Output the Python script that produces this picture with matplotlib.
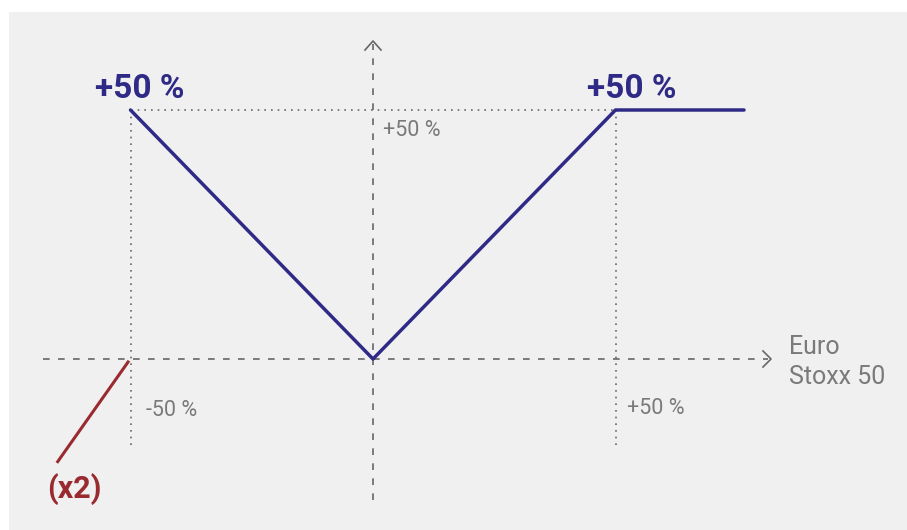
import matplotlib
matplotlib.use("Agg")
import matplotlib.pyplot as plt
from matplotlib.patches import Rectangle

plt.rcParams['font.family'] = ['Roboto', 'DejaVu Sans']

# Data (percent)
payoff_x = [-50, 0, 50, 76.5]
payoff_y = [50, 0, 50, 50]
level_label = "+50 %"
x_tick_labels = ["-50 %", "+50 %"]
x_tick_vals = [-50, 50]
y_tick_label = "+50 %"
y_tick_val = 50
leverage_label = "(x2)"
leverage_x = [-50.5, -65.0]
leverage_y = [-0.6, -20.6]
axis_title = "Euro\nStoxx 50"

NAVY = "#2f2a86"
RED = "#992a2f"
GRAY = "#666666"
TXT = "#7a7a7a"

W, H = 907, 530
fig = plt.figure(figsize=(W / 100, H / 100), dpi=100)
fig.patch.set_facecolor("white")
ax = fig.add_axes([0, 0, 1, 1])
px2x = lambda p: (p - 373) / 4.85
py2y = lambda p: (359 - p) * 50 / 249
ax.set_xlim(px2x(0), px2x(W))
ax.set_ylim(py2y(H), py2y(0))
ax.axis("off")

# gray panel
ax.add_patch(Rectangle((px2x(9), py2y(H)), px2x(W) - px2x(9), py2y(12) - py2y(H),
                       facecolor="#f0f0f0", edgecolor="none", zorder=0))

# axes (dashed)
ax.plot([px2x(43), px2x(768)], [0, 0], color=GRAY, lw=1.2, dashes=(4, 5), zorder=2)
ax.plot([0, 0], [py2y(500), py2y(44)], color=GRAY, lw=1.2, dashes=(4, 5), zorder=2)
# arrow heads
ax.plot([px2x(763), px2x(771), px2x(763)], [py2y(351), py2y(359), py2y(367)], color=GRAY, lw=1.2)
ax.plot([px2x(365), 0, px2x(381)], [py2y(50), py2y(41), py2y(50)], color=GRAY, lw=1.2)

# dotted reference lines
dot = dict(color=GRAY, lw=1.2, linestyle=(0, (1, 3)), zorder=2)
ax.plot([x_tick_vals[0], x_tick_vals[1]], [y_tick_val, y_tick_val], **dot)
ax.plot([x_tick_vals[0], x_tick_vals[0]], [y_tick_val, py2y(445)], **dot)
ax.plot([x_tick_vals[1], x_tick_vals[1]], [y_tick_val, py2y(447)], **dot)

# payoff
ax.plot(payoff_x, payoff_y, color=NAVY, lw=2.5, solid_capstyle="round", zorder=3)

# leverage annotation line
ax.plot(leverage_x, leverage_y, color=RED, lw=2.2, zorder=3)
ax.text(px2x(47), py2y(489), leverage_label, color=RED, fontsize=22, fontweight="bold",
        ha="left", va="center")

# labels
ax.text(px2x(95), py2y(89), level_label, color=NAVY, fontsize=24, fontweight="bold",
        ha="left", va="center")
ax.text(px2x(587), py2y(89), level_label, color=NAVY, fontsize=24, fontweight="bold",
        ha="left", va="center")
ax.text(px2x(383), py2y(130), y_tick_label, color=TXT, fontsize=15.5, ha="left", va="center")
ax.text(px2x(146), py2y(410), x_tick_labels[0], color=TXT, fontsize=15.5, ha="left", va="center")
ax.text(px2x(627), py2y(408), x_tick_labels[1], color=TXT, fontsize=15.5, ha="left", va="center")
ax.text(px2x(789), py2y(362), axis_title, color=TXT, fontsize=18, ha="left", va="center",
        linespacing=1.35)

fig.savefig("out.png", dpi=100)
